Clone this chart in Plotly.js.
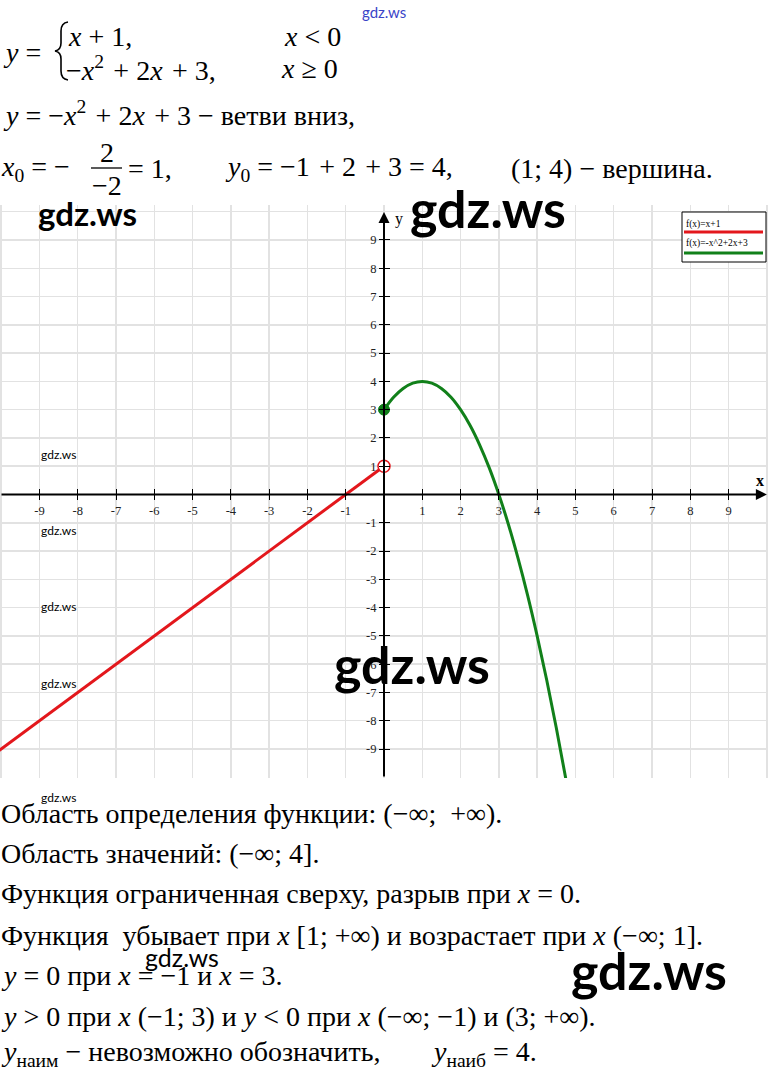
<!DOCTYPE html>
<html><head><meta charset="utf-8">
<script src="https://cdn.plot.ly/plotly-3.0.1.min.js"></script>
<style>html,body{margin:0;padding:0;background:#fff;}#chart{width:768px;height:1073px;}</style>
</head><body><div id="chart"></div>
<script>
// ---- data ----
const lineX = [-10.5, 0];
const lineY = [-9.5, 1];
const parabolaX = [0, 0.25, 0.5, 0.75, 1, 1.25, 1.5, 1.75, 2, 2.25, 2.5, 2.75, 3, 3.25, 3.5, 3.75, 4, 4.25, 4.5, 4.75];
const parabolaY = [3, 3.44, 3.75, 3.94, 4, 3.94, 3.75, 3.44, 3, 2.44, 1.75, 0.94, 0, -1.06, -2.25, -3.56, -5, -6.56, -8.25, -10.06];
const openPointX = [0], openPointY = [1];
const filledPointX = [0], filledPointY = [3];
const xTickVals = [-9, -8, -7, -6, -5, -4, -3, -2, -1, 1, 2, 3, 4, 5, 6, 7, 8, 9];
const xTickText = ['-9', '-8', '-7', '-6', '-5', '-4', '-3', '-2', '-1', '1', '2', '3', '4', '5', '6', '7', '8', '9'];
const yTickVals = [-9, -8, -7, -6, -5, -4, -3, -2, -1, 1, 2, 3, 4, 5, 6, 7, 8, 9];
const yTickText = ['-9', '-8', '-7', '-6', '-5', '-4', '-3', '-2', '-1', '1', '2', '3', '4', '5', '6', '7', '8', '9'];
const legendLabels = ['f(x)=x+1', 'f(x)=-x^2+2x+3'];
const seriesColors = ['#e3171c', '#11801a'];

// ---- layout helpers ----
const W = 768, H = 1073;
const px = v => v / W;
const py = v => 1 - v / H;
const X_RANGE = [-10.03, 10.03];
const Y_RANGE = [-10.025, 10.237];
const Y_DOM = [py(778), py(205)];
const yZeroPaper = Y_DOM[0] + (0 - Y_RANGE[0]) / (Y_RANGE[1] - Y_RANGE[0]) * (Y_DOM[1] - Y_DOM[0]);
const xZeroPaper = (0 - X_RANGE[0]) / (X_RANGE[1] - X_RANGE[0]);

const SERIF = 'Liberation Serif, Times New Roman, serif';
const SANS = 'Lato, Open Sans, sans-serif';
const tickFont = {family: SERIF, size: 12.5, color: '#222'};

const traces = [
  {x: lineX, y: lineY, mode: 'lines', line: {color: seriesColors[0], width: 3}, showlegend: false, hoverinfo: 'skip'},
  {x: parabolaX, y: parabolaY, mode: 'lines', line: {color: seriesColors[1], width: 3, shape: 'spline'}, showlegend: false, hoverinfo: 'skip'},
  {x: filledPointX, y: filledPointY, mode: 'markers', marker: {symbol: 'circle', size: 11, color: seriesColors[1], line: {color: seriesColors[1], width: 1}}, showlegend: false, hoverinfo: 'skip', cliponaxis: false},
  {x: openPointX, y: openPointY, mode: 'markers', marker: {symbol: 'circle', size: 12, color: '#ffffff', line: {color: seriesColors[0], width: 1.5}}, showlegend: false, hoverinfo: 'skip', cliponaxis: false},
  {x: [], y: [], xaxis: 'x2', yaxis: 'y2', showlegend: false, hoverinfo: 'skip'},
  {x: [], y: [], xaxis: 'x3', yaxis: 'y3', showlegend: false, hoverinfo: 'skip'}
];

const baseX = {range: X_RANGE, domain: [0, 1], fixedrange: true, zeroline: false, showline: false};
const baseY = {range: Y_RANGE, domain: Y_DOM, fixedrange: true, zeroline: false, showline: false};

const layout = {
  width: W, height: H,
  margin: {l: 0, r: 0, t: 0, b: 0},
  paper_bgcolor: '#ffffff', plot_bgcolor: '#ffffff',
  showlegend: false,
  xaxis: Object.assign({}, baseX, {dtick: 1, tick0: 0, showgrid: true, gridcolor: '#e2e2e2', gridwidth: 1.5, showticklabels: false, ticks: ''}),
  yaxis: Object.assign({}, baseY, {dtick: 1, tick0: 0, showgrid: true, gridcolor: '#e2e2e2', gridwidth: 1.5, showticklabels: false, ticks: ''}),
  xaxis2: Object.assign({}, baseX, {overlaying: 'x', anchor: 'free', position: yZeroPaper, side: 'bottom', tickmode: 'array', tickvals: xTickVals, ticktext: xTickText, ticks: 'outside', ticklen: 5, tickwidth: 1, tickcolor: '#000', showgrid: false, tickfont: tickFont}),
  yaxis2: Object.assign({}, baseY, {overlaying: 'y', anchor: 'free', position: xZeroPaper, side: 'left', tickmode: 'array', tickvals: yTickVals, ticktext: yTickText, ticks: 'outside', ticklen: 5, tickwidth: 1, tickcolor: '#000', showgrid: false, tickfont: tickFont}),
  xaxis3: Object.assign({}, baseX, {overlaying: 'x', anchor: 'free', position: yZeroPaper, side: 'bottom', tickmode: 'array', tickvals: xTickVals, ticks: 'inside', ticklen: 5, tickwidth: 1, tickcolor: '#000', showgrid: false, showticklabels: false}),
  yaxis3: Object.assign({}, baseY, {overlaying: 'y', anchor: 'free', position: xZeroPaper, side: 'left', tickmode: 'array', tickvals: yTickVals, ticks: 'inside', ticklen: 5, tickwidth: 1, tickcolor: '#000', showgrid: false, showticklabels: false}),
  shapes: [],
  annotations: []
};

// axis arrows
layout.annotations.push({xref: 'x', yref: 'y', axref: 'x', ayref: 'y', x: 10.0, y: 0, ax: X_RANGE[0], ay: 0, text: '', showarrow: true, arrowhead: 2, arrowsize: 1.1, arrowwidth: 2, arrowcolor: '#000', standoff: 0});
layout.annotations.push({xref: 'x', yref: 'y', axref: 'x', ayref: 'y', x: 0, y: 9.99, ax: 0, ay: Y_RANGE[0], text: '', showarrow: true, arrowhead: 2, arrowsize: 1.1, arrowwidth: 2, arrowcolor: '#000', standoff: 0});

function T(text, x, y, size, opt) {
  opt = opt || {};
  layout.annotations.push({
    xref: 'paper', yref: 'paper', x: px(x), y: py(y), text: text, showarrow: false,
    xanchor: opt.xanchor || 'left', yanchor: opt.yanchor || 'middle',
    font: {family: opt.family || SERIF, size: size, color: opt.color || '#000', weight: opt.weight || 'normal'},
    borderpad: 0
  });
}

// axis letters
T('<b>x</b>', 760, 480, 16, {xanchor: 'center'});
T('y', 399, 219, 16, {xanchor: 'center'});

// manual legend box
layout.shapes.push({type: 'rect', xref: 'paper', yref: 'paper', x0: px(682), x1: px(766), y0: py(262), y1: py(212), line: {color: '#000', width: 1}, fillcolor: '#ffffff'});
layout.shapes.push({type: 'line', xref: 'paper', yref: 'paper', x0: px(684), x1: px(763), y0: py(232), y1: py(232), line: {color: seriesColors[0], width: 3}});
layout.shapes.push({type: 'line', xref: 'paper', yref: 'paper', x0: px(684), x1: px(763), y0: py(253), y1: py(253), line: {color: seriesColors[1], width: 3}});
T(legendLabels[0], 685, 224, 9.5);
T(legendLabels[1], 685, 244, 9.5);

// brace
function P(x, y) { return px(x).toFixed(5) + ',' + py(y).toFixed(5); }
layout.shapes.push({type: 'path', xref: 'paper', yref: 'paper', line: {color: '#000', width: 1.6},
  path: 'M' + P(68, 22) + ' Q' + P(61, 23) + ' ' + P(61, 31) + ' L' + P(61, 43) + ' Q' + P(61, 50) + ' ' + P(55, 51) +
        ' Q' + P(61, 52) + ' ' + P(61, 59) + ' L' + P(61, 71) + ' Q' + P(61, 79) + ' ' + P(68, 80)});

// top text
const FS = 28;
const sp = '\u200A';
T('<i>y</i> =', 2, 52, FS);
T('<i>x</i> + 1,', 67, 36, FS);
T('<i>x</i> &lt; 0', 283, 36, FS);
T('−<i>x</i><sup>2</sup> ' + sp + '+ 2<i>x</i> ' + sp + '+ 3,', 65, 68, FS);
T('<i>x</i> ≥ 0', 280, 68, FS);
T('<i>y</i> = −<i>x</i><sup>2</sup> ' + sp + '+ 2<i>x</i> ' + sp + '+ 3 − ветви вниз,', 2, 113, FS);
T('<i>x</i><sub>0</sub> = −', 0, 168, FS);
T('2', 107, 152, FS, {xanchor: 'center'});
T('−2', 107, 186, FS, {xanchor: 'center'});
layout.shapes.push({type: 'line', xref: 'paper', yref: 'paper', x0: px(91), x1: px(122), y0: py(168), y1: py(168), line: {color: '#000', width: 1.3}});
T('= 1,', 127, 168, FS);
T('<i>y</i><sub>0</sub> = −1 ' + sp + '+ 2 ' + sp + '+ 3 = 4,', 224, 168, FS);
T('(1; 4) − вершина.', 510, 168, FS);

// bottom text
T('Область определения функции: (−∞;  +∞).', 0, 813, FS);
T('Область значений: (−∞; 4].', 0, 853, FS);
T('Функция ограниченная сверху, разрыв при <i>x</i> = 0.', 0, 893, FS);
T('Функция  убывает при <i>x</i> [1; +∞) и возрастает при <i>x</i> (−∞; 1].', 0, 935, FS);
T('<i>y</i> = 0 при <i>x</i> = −1 и <i>x</i> = 3.', 0, 975, FS);
T('<i>y</i> &gt; 0 при <i>x</i> (−1; 3) и <i>y</i> &lt; 0 при <i>x</i> (−∞; −1) и (3; +∞).', 0, 1016, FS);
T('<i>y</i><sub>наим</sub> − невозможно обозначить,', 0, 1053, FS);
T('<i>y</i><sub>наиб</sub> = 4.', 430, 1053, FS);

// watermarks
T('gdz.ws', 384, 12, 15, {xanchor: 'center', family: SANS, color: '#3a44c8'});
T('gdz.ws', 37, 213, 33, {family: SANS, weight: 'bold'});
T('gdz.ws', 409, 208, 52, {family: SANS, weight: 'bold'});
T('gdz.ws', 333, 664, 52, {family: SANS, weight: 'bold'});
T('gdz.ws', 570, 970, 52, {family: SANS, weight: 'bold'});
T('gdz.ws', 144, 957, 25, {family: SANS});
[455, 530, 606, 683, 797].forEach(yy => T('gdz.ws', 40, yy, 12, {family: SANS}));

Plotly.newPlot('chart', traces, layout, {staticPlot: true, displayModeBar: false});
</script></body></html>
